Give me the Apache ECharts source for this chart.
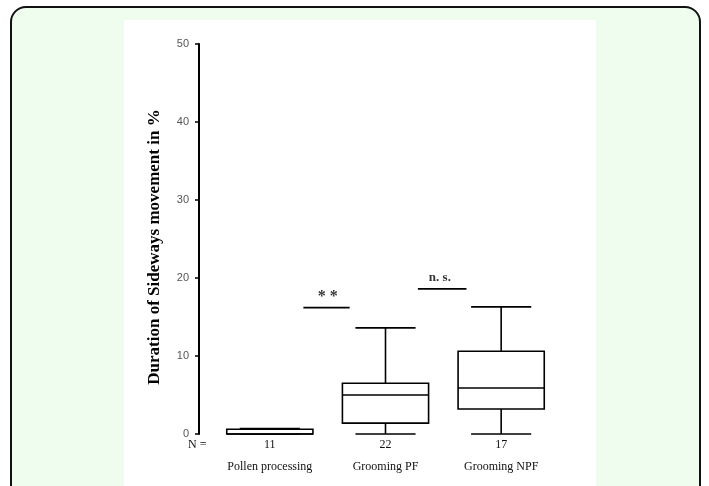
<!DOCTYPE html>
<html>
<head>
<meta charset="utf-8">
<script src="https://cdn.jsdelivr.net/npm/echarts@6/dist/echarts.min.js"></script>
<style>
html,body{margin:0;padding:0;background:#ffffff;}
#frame{position:absolute;left:10px;top:6px;width:691px;height:500px;border:2px solid #111;border-radius:16px;background:#effdef;box-sizing:border-box;}
#panel{position:absolute;left:124px;top:20px;width:472px;height:470px;background:#ffffff;}
#chart{position:absolute;left:0;top:0;width:709px;height:486px;}
</style>
</head>
<body>
<div id="frame"></div>
<div id="panel"></div>
<div id="chart"></div>
<script>
// Data
var categories = ['Pollen processing', 'Grooming PF', 'Grooming NPF'];
var sampleSizes = [11, 22, 17];
// [min, Q1, median, Q3, max]
var boxValues = [
  [0, 0, 0, 0.6, 0.7],
  [0, 1.4, 5.0, 6.5, 13.6],
  [0, 3.2, 5.9, 10.6, 16.3]
];
var yTicks = [0, 10, 20, 30, 40, 50];
// significance brackets: x positions on a continuous category scale (0 = first category)
var sigLabels = ['* *', 'n. s.'];
var sigStart = [0.29, 1.28];
var sigEnd = [0.69, 1.70];
var sigLineY = [16.2, 18.6];
var sigTextX = [0.50, 1.47];
var sigTextY = [17.6, 20.1];

var chart = echarts.init(document.getElementById('chart'), null, {renderer: 'canvas'});

var boxData = boxValues.map(function (v, i) { return [i].concat(v); });

var series = [{
  type: 'custom',
  xAxisIndex: 0,
  yAxisIndex: 0,
  data: boxData,
  renderItem: function (params, api) {
    var idx = api.value(0);
    var vmin = api.value(1), q1 = api.value(2), med = api.value(3), q3 = api.value(4), vmax = api.value(5);
    var band = api.size([1, 0])[0];
    var cx = api.coord([idx, 0])[0];
    var bw = band * 0.745;
    var cw = band * 0.52;
    var yMin = api.coord([idx, vmin])[1];
    var yQ1 = api.coord([idx, q1])[1];
    var yMed = api.coord([idx, med])[1];
    var yQ3 = api.coord([idx, q3])[1];
    var yMax = api.coord([idx, vmax])[1];
    var st = {stroke: '#000', lineWidth: 1.6, fill: null};
    return {
      type: 'group',
      children: [
        {type: 'line', shape: {x1: cx, y1: yQ3, x2: cx, y2: yMax}, style: st},
        {type: 'line', shape: {x1: cx, y1: yQ1, x2: cx, y2: yMin}, style: st},
        {type: 'line', shape: {x1: cx - cw / 2, y1: yMax, x2: cx + cw / 2, y2: yMax}, style: st},
        {type: 'line', shape: {x1: cx - cw / 2, y1: yMin, x2: cx + cw / 2, y2: yMin}, style: st},
        {type: 'rect', shape: {x: cx - bw / 2, y: yQ3, width: bw, height: Math.max(yQ1 - yQ3, 0)}, style: {stroke: '#000', lineWidth: 1.6, fill: '#fff'}},
        {type: 'line', shape: {x1: cx - bw / 2, y1: yMed, x2: cx + bw / 2, y2: yMed}, style: st}
      ]
    };
  }
}];

sigLabels.forEach(function (lab, i) {
  series.push({
    type: 'line',
    xAxisIndex: 1,
    yAxisIndex: 0,
    symbol: 'none',
    silent: true,
    lineStyle: {color: '#000', width: 1.6},
    data: [[sigStart[i], sigLineY[i]], [sigEnd[i], sigLineY[i]]]
  });
  series.push({
    type: 'scatter',
    xAxisIndex: 1,
    yAxisIndex: 0,
    symbolSize: 0,
    silent: true,
    label: {
      show: true,
      position: 'inside',
      formatter: lab,
      fontFamily: 'Liberation Serif',
      fontWeight: 'bold',
      fontSize: i === 0 ? 16 : 13,
      color: '#000'
    },
    data: [[sigTextX[i], sigTextY[i]]]
  });
});

chart.setOption({
  animation: false,
  backgroundColor: 'transparent',
  grid: {left: 212, right: 150, top: 44, bottom: 52, containLabel: false},
  xAxis: [{
    type: 'category',
    data: categories,
    boundaryGap: true,
    axisLine: {show: false},
    axisTick: {show: false},
    splitLine: {show: false},
    axisLabel: {
      margin: 1,
      interval: 0,
      formatter: function (val, i) {
        return '{n|' + sampleSizes[i] + '}\n{c|' + val + '}';
      },
      rich: {
        n: {fontFamily: 'Liberation Serif', fontSize: 12, color: '#111', lineHeight: 20},
        c: {fontFamily: 'Liberation Serif', fontSize: 12, color: '#111', lineHeight: 24}
      }
    }
  }, {
    type: 'value',
    min: -0.5,
    max: 2.5,
    show: false
  }],
  yAxis: [{
    type: 'value',
    min: 0,
    max: 50,
    interval: 10,
    offset: 13,
    name: 'Duration of Sideways movement in %',
    nameLocation: 'middle',
    nameGap: 36,
    nameTextStyle: {fontFamily: 'Liberation Serif', fontWeight: 'bold', fontSize: 17, color: '#000', padding: [0, 16, 0, 0]},
    axisLine: {show: true, onZero: false, lineStyle: {color: '#000', width: 2}},
    axisTick: {show: true, length: 4, lineStyle: {color: '#000', width: 1.5}},
    splitLine: {show: false},
    axisLabel: {
      margin: 10,
      fontFamily: 'Liberation Sans',
      fontSize: 11,
      color: '#555',
      customValues: yTicks
    }
  }],
  graphic: [{
    type: 'text',
    left: 188,
    top: 439,
    style: {text: 'N =', fontFamily: 'Liberation Serif', fontSize: 12, fill: '#111'}
  }],
  series: series
});
</script>
</body>
</html>
